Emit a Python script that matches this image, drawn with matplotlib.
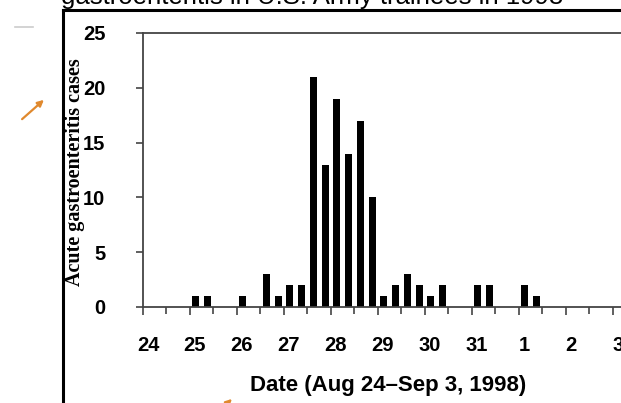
import numpy as np
import matplotlib
matplotlib.use('Agg')
import matplotlib.pyplot as plt
import matplotlib.transforms as mtransforms
from matplotlib.lines import Line2D
from matplotlib.patches import FancyArrowPatch

# Cases per 6-hour interval (start day, counted from Aug 24 = 24; Sep 1 = 32)
bin_start = [25.0, 25.25, 26.0, 26.5, 26.75, 27.0, 27.25, 27.5, 27.75, 28.0, 28.25,
             28.5, 28.75, 29.0, 29.25, 29.5, 29.75, 30.0, 30.25, 31.0, 31.25, 32.0, 32.25]
cases = [1, 1, 1, 3, 1, 2, 2, 21, 13, 19, 14,
         17, 10, 1, 2, 3, 2, 1, 2, 2, 2, 2, 1]

day_pos = np.arange(24, 35)
day_labels = ['24', '25', '26', '27', '28', '29', '30', '31', '1', '2', '3']
yticks = [0, 5, 10, 15, 20, 25]

W, H = 621, 403
fig = plt.figure(figsize=(W/100, H/100), dpi=100)

# axes runs past the right edge of the picture (cropped screenshot)
ax = fig.add_axes([143/W, (H-307)/H, 493.5/W, 274/H])
ax.bar(np.array(bin_start) + 0.125, cases, width=0.15, color='black')
ax.set_xlim(24, 34.5)
ax.set_ylim(0, 25)

ax.set_yticks(yticks)
ax.set_yticklabels([str(v) for v in yticks], fontsize=14.5, fontweight='bold',
                   family='Liberation Sans')
ax.set_xticks(day_pos)
ax.set_xticklabels(day_labels, fontsize=14.5, fontweight='bold', family='Liberation Sans')
ax.set_xticks(day_pos[:-1] + 0.5, minor=True)
ax.tick_params(axis='y', length=5, width=1.2, color='#444444', pad=22)
ax.tick_params(axis='x', which='major', length=6, width=1.2, color='#444444', pad=15)
ax.tick_params(axis='x', which='minor', length=5, width=1.2, color='#444444')
off = mtransforms.ScaledTranslation(5/100, 0, fig.dpi_scale_trans)
for lab in ax.get_xticklabels():
    lab.set_transform(lab.get_transform() + off)

for s in ['left', 'bottom', 'top']:
    ax.spines[s].set_color('#444444')
    ax.spines[s].set_linewidth(1.3)
ax.spines['right'].set_visible(False)

fig.text(388/W, 1 - 386/H, 'Date (Aug 24\u2013Sep 3, 1998)', fontsize=16, fontweight='bold',
         family='Liberation Sans', ha='center', va='center')
fig.text(75/W, 1 - 172/H, 'Acute gastroenteritis cases', fontsize=14.5, fontweight='bold',
         family='Liberation Serif', rotation=90, ha='center', va='center')

# slide frame and cut-off title
fig.add_artist(Line2D([63/W, 63/W], [0, 1 - 10/H], color='black', lw=2.2))
fig.add_artist(Line2D([63/W, 1], [1 - 10/H, 1 - 10/H], color='black', lw=2.2))
fig.add_artist(Line2D([15/W, 33/W], [1 - 27/H, 1 - 27/H], color='#cccccc', lw=1.2))
fig.text(312/W, 1 + 3/H, 'gastroenteritis in U.S. Army trainees in 1998', fontsize=18.5,
         family='Liberation Sans', ha='center', va='center')

# orange pointer arrows
for (x0, y0, x1, y1) in [(20, 121, 46, 98), (212, 418, 234, 397)]:
    fig.add_artist(FancyArrowPatch((x0/W, 1 - y0/H), (x1/W, 1 - y1/H),
                                   transform=fig.transFigure, arrowstyle='-|>',
                                   mutation_scale=9, color='#e0892e', lw=1.6))

fig.savefig('out.png', dpi=100)
